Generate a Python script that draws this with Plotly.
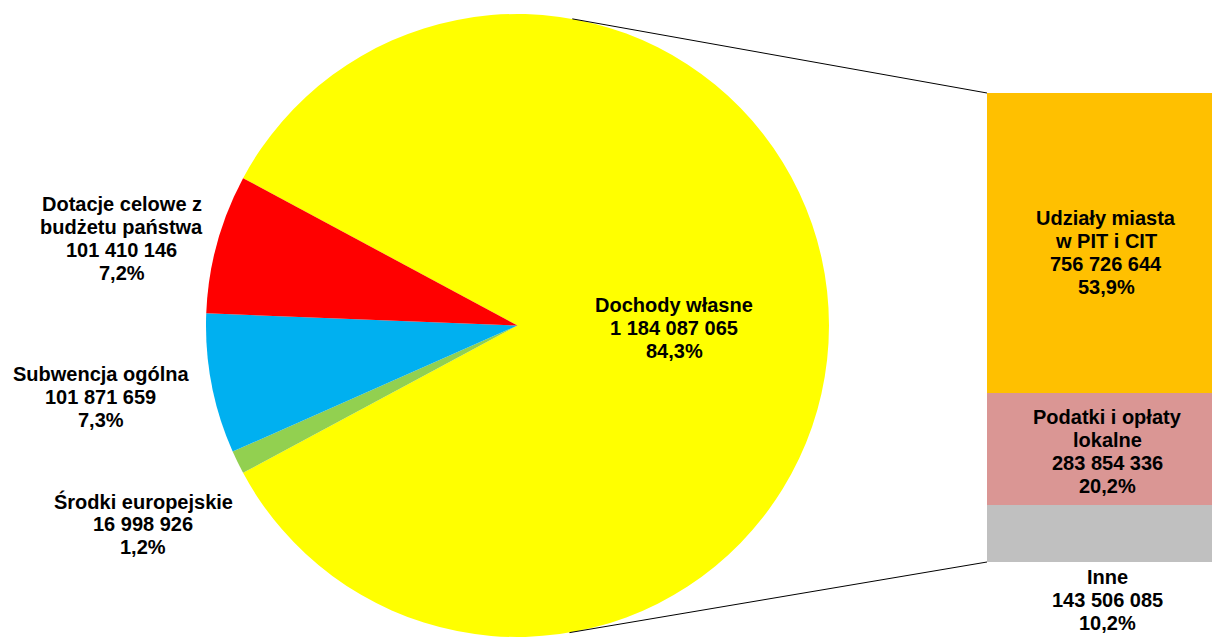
import math
import plotly.graph_objects as go

# ---- data ----
pie_labels = ["Dochody własne", "Środki europejskie", "Subwencja ogólna",
              "Dotacje celowe z<br>budżetu państwa"]
pie_values = [1184087065, 16998926, 101871659, 101410146]
pie_colors = ["#FFFF00", "#92D050", "#00B0F0", "#FF0000"]

bar_labels = ["Udziały miasta<br>w PIT i CIT", "Podatki i opłaty<br>lokalne", "Inne"]
bar_values = [756726644, 283854336, 143506085]
bar_colors = ["#FFC000", "#DA9694", "#C0C0C0"]

# ---- layout geometry (pixels) ----
W, H = 1212, 637
pie_px_x = (205, 830)
pie_px_h = 623
bar_px_left = 987
bar_px_top, bar_px_bottom = 93, 562
line_gap = 23

total = sum(pie_values)
split_total = sum(bar_values)


def fmt_num(v):
    return f"{v:,}".replace(",", " ")


def fmt_pct(v):
    return f"{100 * v / total:.1f}%".replace(".", ",")


# pie placement
pie_dom_x = [pie_px_x[0] / W, pie_px_x[1] / W]
pie_dom_y = [0, pie_px_h / H]
r = min(pie_px_x[1] - pie_px_x[0], pie_px_h) / 2
cx = (pie_px_x[0] + pie_px_x[1]) / 2
cy = H - pie_px_h / 2

# combined slice centred at 3 o'clock (Excel bar-of-pie style)
rotation = 90 - 180 * pie_values[0] / total

# bar axis mapping
bot_frac = 1 - bar_px_bottom / H
top_frac = 1 - bar_px_top / H
scale = split_total / (top_frac - bot_frac)
y_lo = -bot_frac * scale
y_hi = y_lo + scale

fig = go.Figure()

fig.add_trace(go.Pie(
    labels=[l.replace("<br>", " ") for l in pie_labels],
    values=pie_values,
    marker=dict(colors=pie_colors, line=dict(width=0)),
    sort=False,
    direction="clockwise",
    rotation=rotation,
    textinfo="none",
    hoverinfo="skip",
    showlegend=False,
    domain=dict(x=pie_dom_x, y=pie_dom_y),
))

# stacked bar, bottom first
for lab, val, col in reversed(list(zip(bar_labels, bar_values, bar_colors))):
    fig.add_trace(go.Bar(
        x=[0], y=[val], width=1,
        name=lab.replace("<br>", " "),
        marker=dict(color=col, line=dict(width=0)),
        hoverinfo="skip", showlegend=False,
    ))


def tangent(px, py, upper):
    dx, dy = px - cx, py - cy
    d = math.hypot(dx, dy)
    phi = math.atan2(dy, dx)
    a = math.acos(r / d)
    t = phi - a if upper else phi + a
    return cx + r * math.cos(t), cy + r * math.sin(t)


shapes = []
for py, upper in ((bar_px_top, True), (bar_px_bottom, False)):
    tx, ty = tangent(bar_px_left, py, upper)
    shapes.append(dict(type="line", xref="paper", yref="paper",
                       x0=tx / W, y0=1 - ty / H,
                       x1=bar_px_left / W, y1=1 - py / H,
                       line=dict(color="#000000", width=1)))

font = dict(family="Liberation Sans, Arial, sans-serif", size=20,
            color="#000000", weight="bold")

pie_label_pos = [(674, 328), (143, 524), (100.5, 397), (121.5, 238.5)]
bar_label_pos = [(1106, 252.5), (1107, 451), (1107, 600)]

annotations = []
for lab, val, (px, py) in zip(pie_labels + bar_labels, pie_values + bar_values,
                              pie_label_pos + bar_label_pos):
    lines = lab.split("<br>") + [fmt_num(val), fmt_pct(val)]
    n = len(lines)
    for i, txt in enumerate(lines):
        ly = py + (i - (n - 1) / 2) * line_gap
        annotations.append(dict(
            xref="paper", yref="paper", x=px / W, y=1 - ly / H,
            xanchor="center", yanchor="middle", showarrow=False,
            text=txt, font=font, align="center",
        ))

fig.update_layout(
    width=W, height=H,
    margin=dict(l=0, r=0, t=0, b=0),
    paper_bgcolor="white", plot_bgcolor="white",
    barmode="stack",
    xaxis=dict(domain=[bar_px_left / W, 1], range=[-0.5, 0.5], visible=False,
               fixedrange=True),
    yaxis=dict(domain=[0, 1], range=[y_lo, y_hi], visible=False, fixedrange=True),
    shapes=shapes,
    annotations=annotations,
    showlegend=False,
)

fig.write_html(
    "out.html",
    config={"displayModeBar": False},
    post_script="document.body.style.margin='0';document.body.style.overflow='hidden';",
)
